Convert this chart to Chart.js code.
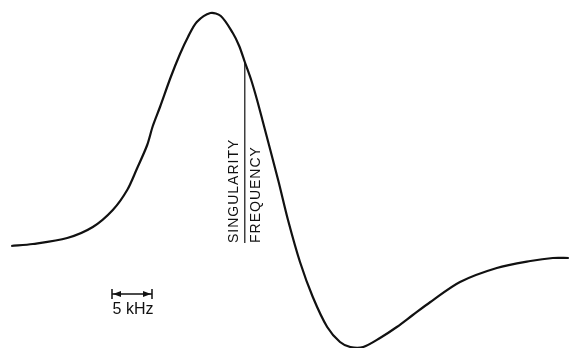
<!DOCTYPE html>
<html>
<head>
<meta charset="utf-8">
<script src="https://cdn.jsdelivr.net/npm/chart.js@4/dist/chart.umd.min.js"></script>
<style>
  html, body { margin: 0; padding: 0; background: #fff; }
  #wrap { width: 569px; height: 348px; }
</style>
</head>
<body>
<div id="wrap"><canvas id="resonance"></canvas></div>
<script>
// frequency in kHz (scale bar = 5 kHz), response in arbitrary units
const freqKHz = [1.4, 4.1, 8.4, 11.6, 14.1, 15.9, 17.1, 18.4, 19.1, 20.0, 21.3, 22.5, 23.5, 24.6,
                 26.3, 27.6, 29.1, 29.9, 30.6, 31.4, 32.1, 32.8, 34.8, 36.0, 37.5, 39.1, 40.9,
                 42.5, 43.8, 45.4, 47.5, 49.6, 51.6, 53.8, 57.5, 62.1, 66.3, 69.1, 71.1];
const response = [10.2, 10.4, 11.0, 12.1, 13.8, 15.8, 17.9, 20.3, 22.2, 24.1, 27.0, 29.4, 31.1, 32.6,
                  33.5, 33.2, 31.5, 30.2, 28.6, 26.8, 24.9, 22.8, 16.7, 12.8, 8.6, 5.1, 2.1,
                  0.6, 0.1, 0.1, 1.0, 2.1, 3.3, 4.6, 6.6, 8.0, 8.7, 9.0, 9.0];

// singularity marker
const singularityFreq = 30.6;
const singularityTop = 28.6;
const singularityBottom = 10.5;
const singularityLabels = ['SINGULARITY', 'FREQUENCY'];

// scale bar
const scaleBarStart = 14.0;
const scaleBarSpan = 5;
const scaleBarLevel = 5.4;
const scaleBarLabel = '5 kHz';

const curve = freqKHz.map((f, i) => ({ x: f, y: response[i] }));

const annotations = {
    id: 'annotations',
    afterDatasetsDraw(chart) {
        const { ctx, scales: { x, y } } = chart;
        ctx.save();
        ctx.fillStyle = '#111';
        ctx.strokeStyle = '#111';

        // singularity labels, rotated, either side of the marker line
        const sx = x.getPixelForValue(singularityFreq);
        const sy = y.getPixelForValue(singularityBottom);
        ctx.font = '14px "Liberation Sans", Arial, sans-serif';
        ctx.letterSpacing = '1px';
        ctx.textAlign = 'left';
        ctx.translate(sx, sy);
        ctx.rotate(-Math.PI / 2);
        ctx.textBaseline = 'bottom';
        ctx.fillText(singularityLabels[0], 0, -4);
        ctx.textBaseline = 'top';
        ctx.fillText(singularityLabels[1], 0, 4);
        ctx.setTransform(1, 0, 0, 1, 0, 0);

        // scale bar with arrow heads
        const x0 = x.getPixelForValue(scaleBarStart);
        const x1 = x.getPixelForValue(scaleBarStart + scaleBarSpan);
        const by = y.getPixelForValue(scaleBarLevel);
        ctx.lineWidth = 1.5;
        ctx.beginPath();
        ctx.moveTo(x0, by); ctx.lineTo(x1, by);
        ctx.moveTo(x0, by - 5); ctx.lineTo(x0, by + 5);
        ctx.moveTo(x1, by - 5); ctx.lineTo(x1, by + 5);
        ctx.stroke();
        ctx.beginPath();
        ctx.moveTo(x0 + 1, by); ctx.lineTo(x0 + 9, by - 3); ctx.lineTo(x0 + 9, by + 3); ctx.closePath();
        ctx.moveTo(x1 - 1, by); ctx.lineTo(x1 - 9, by - 3); ctx.lineTo(x1 - 9, by + 3); ctx.closePath();
        ctx.fill();

        ctx.font = '16px "Liberation Sans", Arial, sans-serif';
        ctx.letterSpacing = '0px';
        ctx.textAlign = 'center';
        ctx.textBaseline = 'top';
        ctx.fillText(scaleBarLabel, (x0 + x1) / 2 + 1, by + 8);
        ctx.restore();
    }
};

new Chart(document.getElementById('resonance').getContext('2d'), {
    type: 'scatter',
    data: {
        datasets: [{
            data: curve,
            showLine: true,
            borderColor: '#111',
            borderWidth: 2.2,
            pointRadius: 0,
            tension: 0.3,
            clip: false
        }, {
            data: [{ x: singularityFreq, y: singularityTop }, { x: singularityFreq, y: singularityBottom }],
            showLine: true,
            borderColor: '#111',
            borderWidth: 1.2,
            pointRadius: 0,
            clip: false
        }]
    },
    options: {
        responsive: true,
        maintainAspectRatio: false,
        animation: false,
        layout: { padding: 0 },
        plugins: {
            legend: { display: false },
            tooltip: { enabled: false }
        },
        scales: {
            x: { type: 'linear', min: 0, max: 71.125, display: false },
            y: { type: 'linear', min: 0, max: 34.8, display: false }
        }
    },
    plugins: [annotations]
});
</script>
</body>
</html>
